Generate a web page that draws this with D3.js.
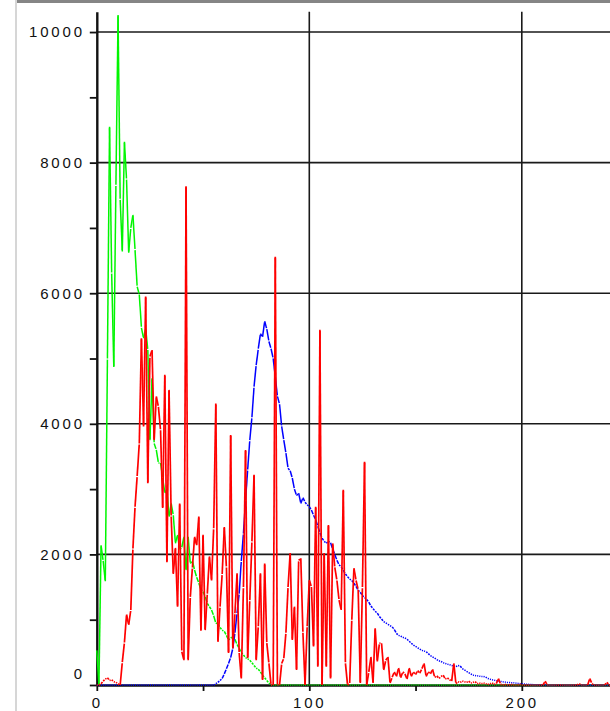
<!DOCTYPE html>
<html>
<head>
<meta charset="utf-8">
<script src="https://cdn.jsdelivr.net/npm/d3@7"></script>
<style>
html, body { margin: 0; padding: 0; background: #fff; }
svg { display: block; }
.lbl { font-family: "Liberation Sans", Arial, sans-serif; font-size: 15px; letter-spacing: 2.8px; fill: #111; }
</style>
</head>
<body>
<div id="chart"></div>
<script>
// tick values and labels
var xTicks = [0, 50, 100, 150, 200];
var xLabels = [0, 100, 200];
var xGrid = [100, 200];
var yTicks = [0, 1000, 2000, 3000, 4000, 5000, 6000, 7000, 8000, 9000, 10000];
var yLabels = [0, 2000, 4000, 6000, 8000, 10000];
var yGrid = [2000, 4000, 6000, 8000, 10000];

// one value per x step (index = x)
var greenVals = [
  530, 0, 2140, 1900, 1590, 5000, 8550, 6300, 4870, 7660,
  10260, 7430, 6640, 8320, 7740, 6620, 7000, 7200, 6660, 6100,
  5980, 5470, 5310, 5460, 5130, 3750, 4700, 3700, 3600, 3400,
  3400, 3170, 2940, 3000, 2580, 2780, 2600, 2170, 2300, 2070,
  2110, 2270, 1760, 2270, 1860, 1900, 1760, 1650, 1560, 1460,
  1430, 1350, 1250, 1200, 1150, 1060, 950, 930, 880, 840,
  820, 760, 690, 720, 740, 700, 620, 560, 500, 460,
  420, 400, 380, 340, 300, 260, 240, 200, 150, 110,
  70, 30, 0, 0, 0, 0, 0, 0, 0, 0,
  0, 0, 0, 0, 0, 0, 0, 0, 0, 0,
  0, 0, 0, 0, 0, 0, 0, 0, 0, 0,
  0, 0, 0, 0, 0, 0, 0, 0, 0, 0,
  0, 0, 0, 0, 0, 0, 0, 0, 0, 0,
  0, 0, 0, 0, 0, 0, 0, 0, 0, 0,
  0, 0, 0, 0, 0, 0, 0, 0, 0, 0,
  0, 0, 0, 0, 0, 0, 0, 0, 0, 0,
  0, 0, 0, 0, 0, 0, 0, 0, 0, 0,
  0, 0, 0, 0, 0, 0, 0, 0, 0, 0,
  0, 0, 0, 0, 0, 0, 0, 0, 0, 0,
  0, 0, 0, 0, 0, 0, 0, 0, 0, 0,
  0, 0, 0, 0, 0, 0, 0, 0, 0, 0,
  0, 0, 0, 0, 0, 0, 0, 0, 0, 0,
  0, 0, 0, 0, 0, 0, 0, 0, 0, 0,
  0, 0, 0, 0, 0, 0, 0, 0, 0, 0,
  0, 0, 0
];

var blueVals = [
  0, 0, 0, 0, 0, 0, 0, 0, 0, 0,
  0, 0, 0, 0, 0, 0, 0, 0, 0, 0,
  0, 0, 0, 0, 0, 0, 0, 0, 0, 0,
  0, 0, 0, 0, 0, 0, 0, 0, 0, 0,
  0, 0, 0, 0, 0, 0, 0, 0, 0, 0,
  0, 0, 0, 0, 0, 0, 20, 40, 70, 100,
  170, 250, 330, 420, 560, 800, 1100, 1400, 1900, 2320,
  2830, 3300, 3750, 4100, 4570, 4900, 5150, 5380, 5330, 5570,
  5450, 5260, 5150, 5000, 4720, 4420, 4300, 3960, 3750, 3550,
  3320, 3280, 3170, 3000, 2900, 2940, 2780, 2870, 2800, 2760,
  2730, 2680, 2600, 2530, 2430, 2330, 2250, 2200, 2170, 2200,
  2180, 2080, 2000, 1910, 1840, 1810, 1760, 1700, 1660, 1620,
  1600, 1560, 1510, 1450, 1420, 1370, 1340, 1310, 1270, 1210,
  1170, 1130, 1100, 1050, 1010, 970, 950, 930, 910, 890,
  850, 790, 760, 750, 730, 720, 700, 670, 640, 610,
  590, 570, 550, 530, 520, 510, 480, 450, 430, 410,
  390, 370, 360, 340, 330, 320, 310, 300, 290, 280,
  300, 290, 250, 230, 210, 190, 170, 150, 145, 140,
  135, 130, 130, 120, 100, 90, 80, 75, 65, 60,
  55, 50, 45, 40, 38, 36, 35, 30, 25, 22,
  20, 15, 12, 10, 8, 6, 5, 5, 4, 3,
  2, 2, 0, 0, 0, 0, 0, 0, 0, 0,
  0, 0, 0, 0, 0, 0, 0, 0, 0, 0,
  0, 0, 0, 0, 0, 0, 0, 0, 0, 0,
  0, 0, 0
];

var redVals = [
  0, 0, 20, 60, 90, 110, 70, 80, 50, 40,
  20, 0, 350, 650, 1080, 920, 1150, 2090, 2730, 3200,
  3700, 5310, 3960, 5950, 3090, 5030, 5130, 3750, 4420, 4260,
  3900, 2710, 4750, 1880, 4520, 2580, 1700, 2100, 1200, 2780,
  510, 380, 7640, 380, 1350, 1800, 2270, 2140, 2580, 830,
  2300, 840, 1400, 1970, 1600, 2400, 4310, 660, 1200, 1700,
  2420, 1800, 490, 3830, 560, 1100, 1710, 490, 100, 1500,
  3600, 410, 1300, 2200, 3220, 380, 900, 1710, 75, 1860,
  640, 330, 0, 0, 6560, 0, 0, 330, 410, 800,
  1500, 2020, 690, 1200, 230, 1910, 1940, 800, 0, 900,
  1610, 1500, 590, 2730, 280, 5440, 0, 2020, 280, 2450,
  100, 2170, 1800, 1600, 1300, 1150, 2990, 330, 0, 30,
  1000, 1790, 1600, 1460, 30, 1500, 3420, 0, 200, 430,
  30, 870, 360, 640, 640, 230, 380, 430, 30, 120,
  200, 130, 260, 110, 200, 170, 90, 260, 130, 200,
  160, 220, 180, 250, 330, 130, 200, 170, 240, 120,
  140, 100, 130, 150, 90, 110, 80, 60, 330, 20,
  50, 40, 60, 50, 40, 60, 30, 40, 50, 20,
  30, 20, 30, 20, 10, 20, 30, 10, 20, 100,
  10, 0, 10, 0, 0, 10, 0, 0, 0, 10,
  0, 0, 0, 0, 0, 0, 0, 0, 0, 0,
  0, 60, 0, 0, 0, 0, 0, 0, 0, 0,
  0, 0, 0, 0, 0, 0, 0, 20, 0, 0,
  0, 0, 100, 20, 0, 0, 0, 0, 0, 0,
  40, 0, 0
];

var width = 610, height = 711;

var svg = d3.select("#chart").append("svg")
    .attr("width", width)
    .attr("height", height);

svg.append("rect")
    .attr("width", width)
    .attr("height", height)
    .attr("fill", "#fff");

// frame pieces of the surrounding window
svg.append("line")
    .attr("x1", 16).attr("x2", 16).attr("y1", 0).attr("y2", height)
    .attr("stroke", "#d6d6d6").attr("stroke-width", 2);
svg.append("line")
    .attr("x1", 17).attr("x2", width).attr("y1", 1.5).attr("y2", 1.5)
    .attr("stroke", "#858585").attr("stroke-width", 3);

var x = d3.scaleLinear().domain([0, 242]).range([96.8, 96.8 + 2.125 * 242]);
var y = d3.scaleLinear().domain([0, 10310]).range([685, 11.8]);

// grid
svg.selectAll(".hgrid")
    .data(yGrid)
    .enter()
    .append("line")
    .attr("class", "hgrid")
    .attr("x1", x(0)).attr("x2", width)
    .attr("y1", d => y(d)).attr("y2", d => y(d))
    .attr("stroke", "#1a1a1a").attr("stroke-width", 1.6);

svg.selectAll(".vgrid")
    .data(xGrid)
    .enter()
    .append("line")
    .attr("class", "vgrid")
    .attr("x1", d => x(d)).attr("x2", d => x(d))
    .attr("y1", y(10310)).attr("y2", y(0))
    .attr("stroke", "#1a1a1a").attr("stroke-width", 1.6);

// y axis
var yAxis = svg.append("g")
    .attr("transform", "translate(" + x(0) + ",0)")
    .call(d3.axisLeft(y)
        .tickValues(yTicks)
        .tickSize(7)
        .tickSizeOuter(0)
        .tickFormat(d => yLabels.indexOf(d) >= 0 ? d : ""));
yAxis.select(".domain").attr("stroke", "#111").attr("stroke-width", 2.4);
yAxis.selectAll(".tick line").attr("stroke", "#111").attr("stroke-width", 1.8);
yAxis.selectAll(".tick text")
    .attr("class", "lbl")
    .attr("x", -12)
    .attr("y", d => d === 0 ? -11 : 0);

// x axis
var xAxis = svg.append("g")
    .attr("transform", "translate(0," + y(0) + ")")
    .call(d3.axisBottom(x)
        .tickValues(xTicks)
        .tickSize(6)
        .tickSizeOuter(0)
        .tickFormat(d => xLabels.indexOf(d) >= 0 ? d : ""));
xAxis.select(".domain").attr("stroke", "#111").attr("stroke-width", 2.6);
xAxis.selectAll(".tick line").attr("stroke", "#111").attr("stroke-width", 1.8);
xAxis.selectAll(".tick text")
    .attr("class", "lbl")
    .attr("y", 12);

// series: each segment drawn with a small gap at its end vertex
function drawSeries(values, color, sw) {
    var pts = values.map((v, i) => [x(i), y(v)]);
    var segs = d3.pairs(pts);
    svg.append("g")
        .selectAll("line")
        .data(segs)
        .enter()
        .append("line")
        .attr("x1", d => d[0][0]).attr("y1", d => d[0][1])
        .attr("x2", d => d[1][0]).attr("y2", d => d[1][1])
        .attr("stroke", color)
        .attr("stroke-width", sw)
        .attr("stroke-dasharray", d => {
            var L = Math.hypot(d[1][0] - d[0][0], d[1][1] - d[0][1]);
            var gap = 1.1;
            return Math.max(L - gap, 0.5) + " " + (gap + 2);
        });
}

drawSeries(greenVals, "#00f500", 1.5);
drawSeries(blueVals, "#0000ff", 1.5);
drawSeries(redVals, "#ff0000", 1.7);
</script>
</body>
</html>
